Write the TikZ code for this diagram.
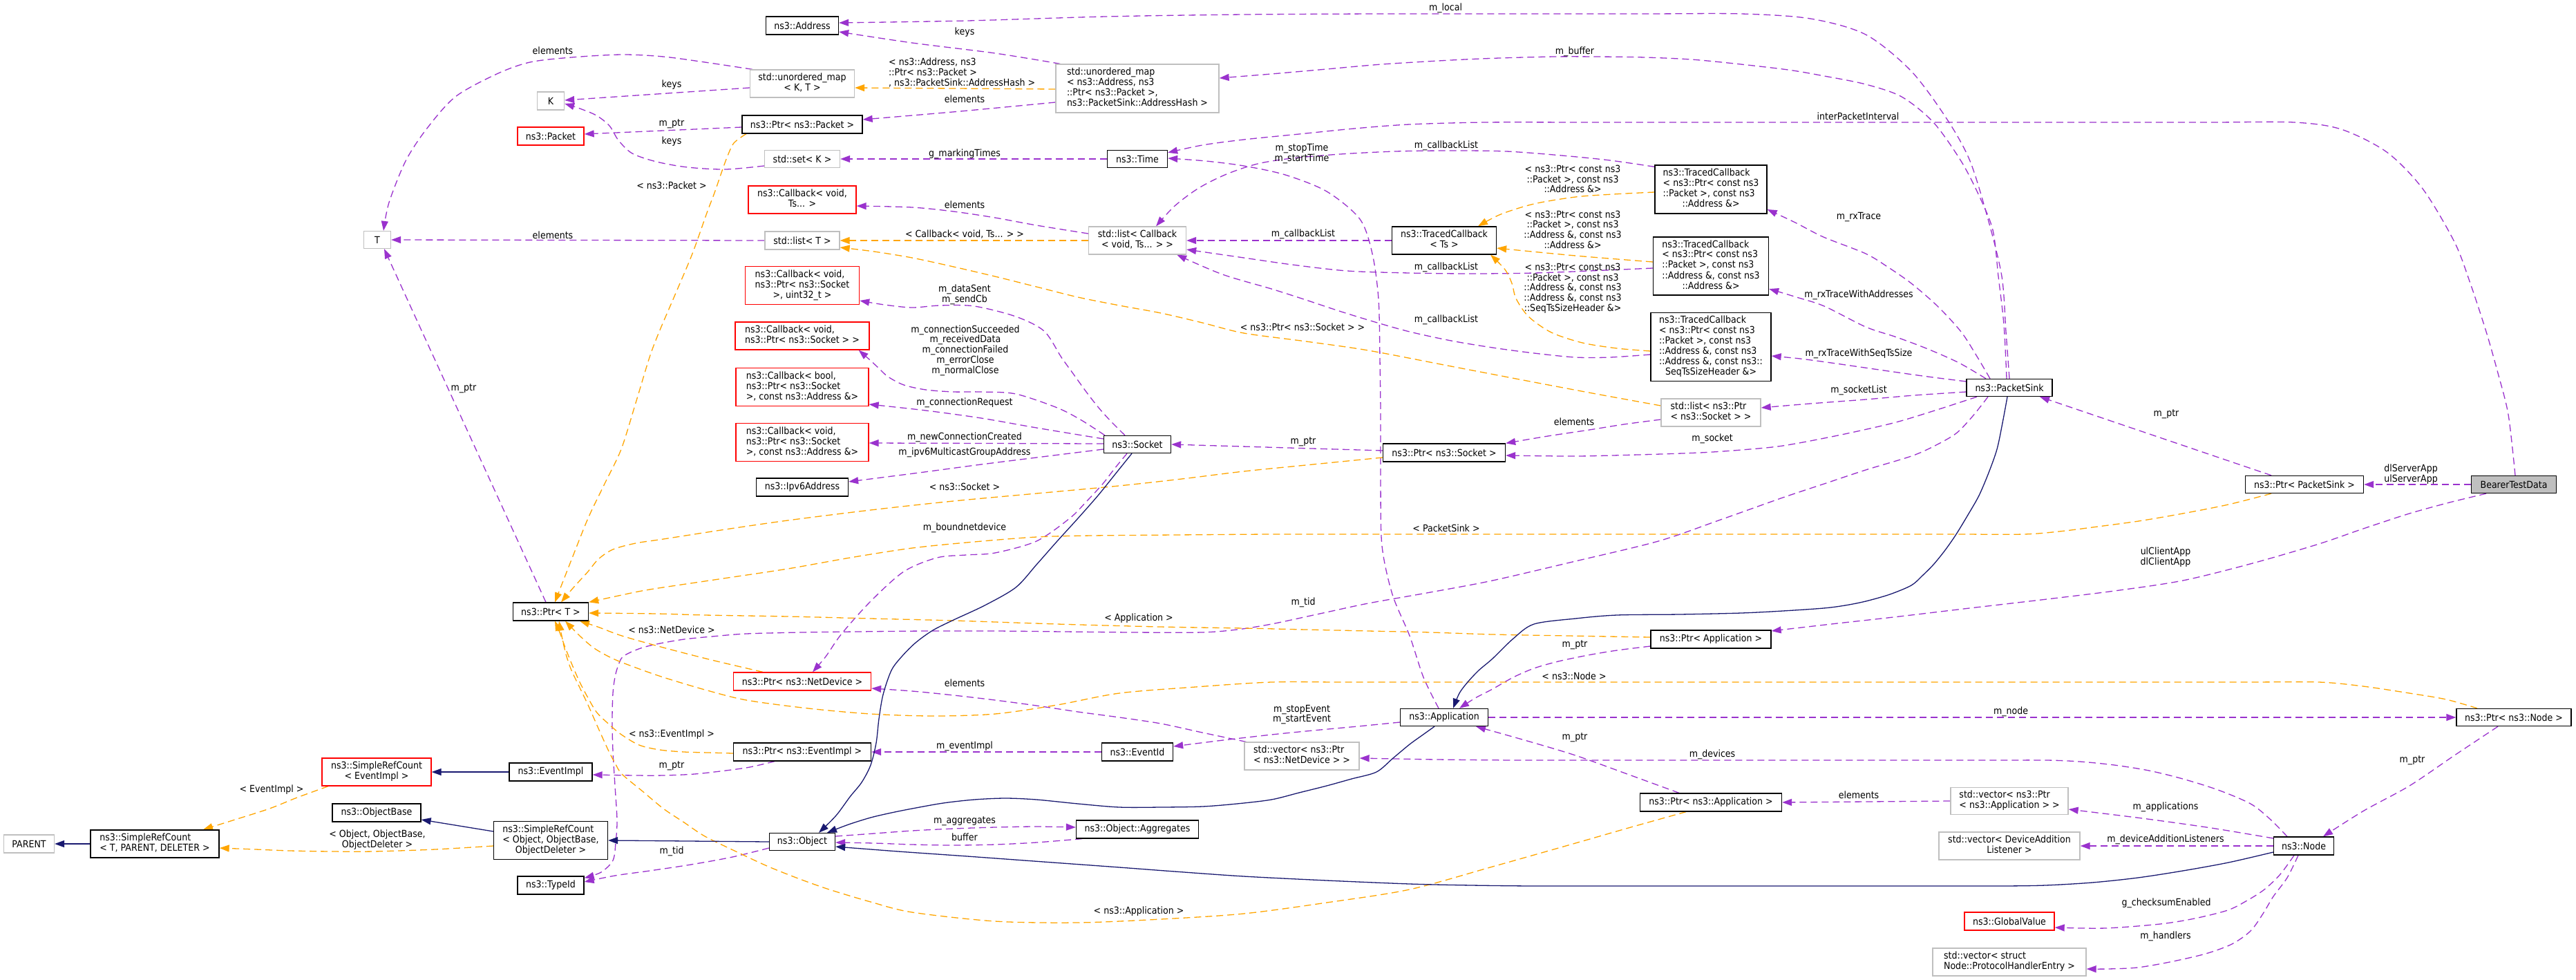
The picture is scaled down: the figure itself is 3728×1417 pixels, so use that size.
\documentclass[tikz,border=0pt]{standalone}
\usepackage{fontspec}
\setmainfont{DejaVu Sans}[FakeStretch=0.9]
\usetikzlibrary{arrows.meta,calc}
\pgfdeclarelayer{bg}
\pgfsetlayers{bg,main}
\definecolor{purp}{RGB}{154,50,205}
\definecolor{orng}{RGB}{255,165,0}
\definecolor{mblue}{RGB}{25,25,112}
\definecolor{ugray}{RGB}{191,191,191}
\newcommand{\dlab}[2]{\begin{tabular}{@{}l@{}}#1\\\multicolumn{1}{@{}c@{}}{#2}\end{tabular}}
\tikzset{
  txt/.style={font=\fontsize{14pt}{14.7pt}\selectfont, inner sep=0pt, align=center, text=black},
  nbox/.style={txt, rectangle, fill=white, line width=1.3pt},
  doc/.style={nbox, draw=black},
  undoc/.style={nbox, draw=ugray},
  trunc/.style={nbox, draw=red},
  mainbox/.style={nbox, draw=black, fill=ugray},
  sz/.style 2 args={minimum width=#1pt, minimum height=#2pt},
  lbl/.style={txt},
  uses/.style={draw=purp, line width=1.3pt, dash pattern=on 10pt off 6pt, -{Triangle[length=14pt,width=10pt]}},
  tmpl/.style={draw=orng, line width=1.3pt, dash pattern=on 10pt off 6pt, -{Triangle[length=14pt,width=10pt]}},
  inh/.style={draw=mblue, line width=1.3pt, -{Triangle[length=14pt,width=10pt]}},
}
\begin{document}
\begin{tikzpicture}[x=1pt,y=-1pt]
\useasboundingbox (0,0) rectangle (3728,1417);

% ---------------- nodes ----------------
\node[doc,sz={105}{26}] (addr) at (1161,37) {ns3::Address};
\node[undoc,sz={151}{40}] (umapKT) at (1161,121) {\dlab{std::unordered\_map}{< K, T >}};
\node[undoc,sz={39}{26}] (K) at (797,146) {K};
\node[trunc,sz={96}{26}] (packet) at (797,197) {ns3::Packet};
\node[undoc,sz={236}{70}] (umapBig) at (1646,128) {\dlab{std::unordered\_map\\< ns3::Address, ns3\\::Ptr< ns3::Packet >,}{ns3::PacketSink::AddressHash >}};
\node[doc,sz={174}{26}] (ptrPacket) at (1161,180) {ns3::Ptr< ns3::Packet >};
\node[undoc,sz={109}{25}] (setK) at (1161,230) {std::set< K >};
\node[doc,sz={87}{25}] (time) at (1646,230) {ns3::Time};
\node[undoc,sz={39}{25}] (T) at (546,347) {T};
\node[trunc,sz={156}{40}] (cbVoidTs) at (1161,289) {\dlab{ns3::Callback< void,}{Ts... >}};
\node[undoc,sz={108}{26}] (listT) at (1161,348) {std::list< T >};
\node[undoc,sz={141}{40}] (listCb) at (1646,348) {\dlab{std::list< Callback}{< void, Ts... > >}};
\node[trunc,sz={165}{55}] (cbSend) at (1161,413) {\dlab{ns3::Callback< void,\\ ns3::Ptr< ns3::Socket}{>, uint32\_t >}};
\node[trunc,sz={194}{40}] (cbSock) at (1161,486) {\dlab{ns3::Callback< void,}{ns3::Ptr< ns3::Socket > >}};
\node[trunc,sz={192}{55}] (cbBool) at (1161,560) {\dlab{ns3::Callback< bool,\\ ns3::Ptr< ns3::Socket}{>, const ns3::Address \&>}};
\node[trunc,sz={192}{55}] (cbNew) at (1161,640) {\dlab{ns3::Callback< void,\\ ns3::Ptr< ns3::Socket}{>, const ns3::Address \&>}};
\node[doc,sz={133}{26}] (ipv6) at (1161,705) {ns3::Ipv6Address};
\node[doc,sz={97}{25}] (socket) at (1646,643) {ns3::Socket};
\node[doc,sz={109}{26}] (ptrT) at (797,885) {ns3::Ptr< T >};
\node[trunc,sz={199}{26}] (ptrNetDev) at (1161,986) {ns3::Ptr< ns3::NetDevice >};
\node[doc,sz={199}{26}] (ptrEvImpl) at (1161,1088) {ns3::Ptr< ns3::EventImpl >};
\node[doc,sz={103}{26}] (eventId) at (1646,1088) {ns3::EventId};
\node[doc,sz={177}{26}] (aggr) at (1646,1200) {ns3::Object::Aggregates};
\node[doc,sz={95}{25}] (object) at (1161,1218) {ns3::Object};
\node[trunc,sz={158}{40}] (srcEv) at (545,1117) {\dlab{ns3::SimpleRefCount}{< EventImpl >}};
\node[doc,sz={120}{26}] (evImpl) at (797,1117) {ns3::EventImpl};
\node[doc,sz={128}{26}] (objBase) at (545,1176) {ns3::ObjectBase};
\node[doc,sz={165}{55}] (srcObj) at (797,1216) {\dlab{ns3::SimpleRefCount\\< Object, ObjectBase,}{ObjectDeleter >}};
\node[doc,sz={186}{40}] (srcT) at (224,1221) {\dlab{ns3::SimpleRefCount}{< T, PARENT, DELETER >}};
\node[undoc,sz={73}{26}] (parent) at (42,1221) {PARENT};
\node[doc,sz={96}{26}] (typeId) at (797,1281) {ns3::TypeId};
\node[doc,sz={151}{40}] (tcTs) at (2090,348) {\dlab{ns3::TracedCallback}{< Ts >}};
\node[doc,sz={162}{70}] (tc1) at (2476,274) {\dlab{ns3::TracedCallback\\< ns3::Ptr< const ns3\\::Packet >, const ns3}{::Address \&>}};
\node[doc,sz={167}{84}] (tc2) at (2476,385) {\dlab{ns3::TracedCallback\\< ns3::Ptr< const ns3\\::Packet >, const ns3\\::Address \&, const ns3}{::Address \&>}};
\node[doc,sz={174}{99}] (tc3) at (2476,502) {\dlab{ns3::TracedCallback\\< ns3::Ptr< const ns3\\::Packet >, const ns3\\::Address \&, const ns3\\::Address \&, const ns3::}{SeqTsSizeHeader \&>}};
\node[undoc,sz={144}{40}] (listSock) at (2476,597) {\dlab{std::list< ns3::Ptr}{< ns3::Socket > >}};
\node[doc,sz={177}{26}] (ptrSock) at (2090,655) {ns3::Ptr< ns3::Socket >};
\node[doc,sz={174}{26}] (ptrApp) at (2476,925) {ns3::Ptr< Application >};
\node[doc,sz={127}{25}] (app) at (2090,1038) {ns3::Application};
\node[undoc,sz={166}{40}] (vecNetDev) at (1884,1094) {\dlab{std::vector< ns3::Ptr}{< ns3::NetDevice > >}};
\node[doc,sz={205}{26}] (ptrNsApp) at (2476,1161) {ns3::Ptr< ns3::Application >};
\node[doc,sz={124}{25}] (packetSink) at (2908,561) {ns3::PacketSink};
\node[doc,sz={171}{25}] (ptrPS) at (3335,701) {ns3::Ptr< PacketSink >};
\node[mainbox,sz={123}{25}] (btd) at (3638,701) {BearerTestData};
\node[doc,sz={166}{25}] (ptrNode) at (3638,1038) {ns3::Ptr< ns3::Node >};
\node[undoc,sz={170}{39}] (vecApp) at (2908,1159) {\dlab{std::vector< ns3::Ptr}{< ns3::Application > >}};
\node[undoc,sz={204}{40}] (vecDAL) at (2908,1224) {\dlab{std::vector< DeviceAddition}{Listener >}};
\node[doc,sz={87}{26}] (node) at (3334,1224) {ns3::Node};
\node[trunc,sz={130}{26}] (globalValue) at (2908,1333) {ns3::GlobalValue};
\node[undoc,sz={222}{40}] (vecPHE) at (2908,1392) {\dlab{std::vector< struct}{Node::ProtocolHandlerEntry >}};

% ---------------- edges ----------------
\begin{pgfonlayer}{bg}
% usage (purple)
\draw[uses] plot[smooth] coordinates {(packetSink.north) (2903,480) (2897,400) (2877,317) (2851,233) (2818,173) (2766,103) (2700,50) (2620,27) (2520,20) (2380,20) (2200,20) (2000,20) (1800,21) (1600,24) (1400,30) ([yshift=4pt]addr.east)};
\draw[uses] plot[smooth] coordinates {([xshift=7pt]umapBig.north west) (1440,77) (1320,62) ([yshift=-9pt]addr.east)};
\draw[uses] ([yshift=-6pt]umapKT.west) -- ([yshift=1pt]K.east);
\draw[uses] plot[smooth] coordinates {([xshift=4pt]umapKT.north west) (1020,90) (960,82) (900,79) (827,83) (767,90) (719,107) (659,140) (617,187) (587,233) (563,293) ([xshift=9pt]T.north)};
\draw[uses] ([yshift=-4pt]ptrPacket.west) -- ([yshift=3pt]packet.east);
\draw[uses] plot[smooth] coordinates {([yshift=-10pt]setK.west) (1050,245) (995,242) (950,234) (915,222) (895,203) (882,182) (863,167) (839,157) ([yshift=-4pt]K.east)};
\draw[uses] plot[smooth] coordinates {([yshift=-20pt]umapBig.west) (1390,161) ([yshift=7pt]ptrPacket.east)};
\draw[uses] plot[smooth] coordinates {([xshift=-4pt]packetSink.north) (2900,470) (2892,400) (2884,333) (2864,283) (2838,233) (2798,177) (2752,140) (2700,122) (2640,110) (2580,100) (2460,87) (2380,83) (2310,82) (2250,82) (2170,84) (2100,87) (2000,93) (1920,100) (1840,107) ([yshift=15pt]umapBig.east)};
\draw[uses] plot[smooth] coordinates {([xshift=2pt]btd.north) (3630,600) (3615,540) (3598,480) (3575,410) (3552,350) (3506,273) (3454,220) (3388,187) (3320,177) (3200,177) (3050,177) (2900,177) (2750,177) (2600,177) (2450,177) (2300,177) (2150,177) (2040,180) (1960,186) (1880,194) (1800,202) (1740,210) ([yshift=-4pt]time.north east)};
\draw[uses] plot[smooth] coordinates {([xshift=-8pt]app.north) (2060,980) (2040,920) (2015,860) (2000,790) (1998,700) (1998,600) (1997,520) (1995,433) (1986,367) (1968,317) (1920,277) (1860,253) (1800,240) (1745,233) ([yshift=1pt]time.east)};
\draw[uses] (tcTs.west) -- (listCb.east);
\draw[uses] plot[smooth] coordinates {([yshift=-3pt]tc1.north west) (2330,232) (2260,225) (2180,219) (2100,218) (2020,219) (1940,223) (1870,229) (1820,237) (1775,252) (1735,272) (1700,298) ([xshift=27pt]listCb.north)};
\draw[uses] plot[smooth] coordinates {([yshift=-3pt]tc2.west) (2300,392) (2220,395) (2130,396) (2040,395) (1950,392) (1870,383) (1800,373) ([yshift=-13pt]listCb.east)};
\draw[uses] plot[smooth] coordinates {([yshift=-11pt]tc3.west) (2330,517) (2280,517) (2220,511) (2160,503) (2100,493) (2040,480) (1990,466) (1938,450) (1890,434) (1840,418) (1769,397) ([xshift=-14pt]listCb.south east)};
\draw[uses] plot[smooth] coordinates {([yshift=10pt]listCb.west) (1500,326) (1440,315) (1380,306) (1320,300) ([yshift=-9pt]cbVoidTs.east)};
\draw[uses] plot[smooth] coordinates {([xshift=-18pt]socket.north) (1608,610) (1590,590) (1572,567) (1554,542) (1536,517) (1511,479) (1470,458) (1410,443) (1360,442) (1320,445) (1280,441) ([yshift=-22pt]cbSend.east)};
\draw[uses] plot[smooth] coordinates {([xshift=2pt]socket.north west) (1565,608) (1530,590) (1470,570) (1420,567) (1380,567) (1340,564) (1308,557) (1285,545) (1272,533) (1258,520) ([xshift=-16pt]cbSock.south east)};
\draw[uses] plot[smooth] coordinates {([yshift=8pt]socket.west) (1500,619) (1420,605) (1340,594) ([yshift=-25pt]cbBool.east)};
\draw[uses] ([yshift=1pt]socket.west) -- ([yshift=-1pt]cbNew.east);
\draw[uses] plot[smooth] coordinates {([yshift=-7pt]socket.west) (1500,662) (1420,672) (1330,684) ([yshift=8pt]ipv6.east)};
\draw[uses] ([yshift=3pt]ptrSock.west) -- (socket.east);
\draw[uses] plot[smooth] coordinates {([xshift=-15pt]socket.south) (1613,678) (1596,700) (1572,726) (1548,750) (1500,783) (1440,800) (1398,803) (1356,807) (1308,827) (1260,870) (1218,917) (1195,950) ([xshift=15pt]ptrNetDev.north)};
\draw[uses] plot[smooth] coordinates {([xshift=3pt]vecNetDev.north west) (1740,1060) (1680,1047) (1620,1038) (1560,1030) (1500,1021) (1440,1013) (1380,1006) (1320,1000) ([yshift=-10pt]ptrNetDev.east)};
\draw[uses] plot[smooth] coordinates {([xshift=-24pt]node.north) (3285,1185) (3257,1163) (3210,1143) (3159,1127) (3110,1115) (3060,1107) (3010,1102) (2962,1100) (2880,1100) (2780,1100) (2650,1100) (2500,1100) (2350,1100) (2200,1100) (2080,1099) ([yshift=-3pt]vecNetDev.east)};
\draw[uses] plot[smooth] coordinates {([xshift=-40pt]ptrEvImpl.south) (1085,1110) (1050,1115) (1005,1120) (960,1122) (920,1122) ([yshift=-4pt]evImpl.east)};
\draw[uses] (eventId.west) -- (ptrEvImpl.east);
\draw[uses] plot[smooth] coordinates {([yshift=-7pt]app.west) (1965,1051) (1900,1057) (1840,1063) (1770,1071) ([yshift=8pt]eventId.east)};
\draw[uses] plot[smooth] coordinates {([yshift=8pt]object.east) (1265,1206) (1320,1202) (1380,1199) (1440,1197) (1500,1196) ([yshift=3pt]aggr.west)};
\draw[uses] plot[smooth] coordinates {([xshift=-80pt]aggr.south) (1500,1219) (1440,1222) (1380,1223) (1320,1222) (1265,1220) ([yshift=-1pt]object.east)};
\draw[uses] plot[smooth] coordinates {([yshift=-9pt]object.west) (1060,1240) (1000,1251) (940,1260) (890,1267) ([yshift=5pt]typeId.east)};
\draw[uses] plot[smooth] coordinates {([xshift=-31pt]packetSink.south) (2855,602) (2831,627) (2800,645) (2766,660) (2700,680) (2640,700) (2580,720) (2490,752) (2400,783) (2280,812) (2160,840) (2070,857) (1980,873) (1910,888) (1840,903) (1790,911) (1739,915) (1640,915) (1540,914) (1440,913) (1340,913) (1240,914) (1160,915) (1080,917) (1030,921) (990,925) (955,931) (930,937) (910,945) (899,953) (891,975) (887,1003) (886,1045) (887,1087) (890,1137) (893,1187) (891,1220) (887,1245) (870,1262) ([yshift=-3pt]typeId.north east)};
\draw[uses] plot[smooth] coordinates {([yshift=-10pt]listSock.west) (2350,614) (2300,622) (2240,631) (ptrSock.north east)};
\draw[uses] plot[smooth] coordinates {([xshift=-47pt]packetSink.south) (2800,594) (2740,612) (2660,630) (2580,645) (2520,651) (2460,655) (2370,658) (2280,660) ([yshift=-4pt]ptrSock.east)};
\draw[uses] plot[smooth] coordinates {([yshift=-6pt]packetSink.west) (2770,572) (2700,578) (2620,584) ([yshift=7pt]listSock.east)};
\draw[uses] plot[smooth] coordinates {([xshift=-28pt]packetSink.north) (2860,514) (2838,480) (2804,443) (2766,410) (2733,387) (2700,367) (2639,343) (2598,322) ([yshift=-29pt]tc1.east)};
\draw[uses] plot[smooth] coordinates {([xshift=-34pt]packetSink.north) (2835,525) (2790,505) (2745,488) (2700,473) (2640,443) (2600,430) ([yshift=-33pt]tc2.east)};
\draw[uses] plot[smooth] coordinates {([yshift=9pt]packetSink.west) (2790,545) (2740,538) (2650,525) (2605,519) ([yshift=-13pt]tc3.east)};
\draw[uses] ([xshift=-48pt]ptrPS.north) -- ([xshift=44pt]packetSink.south);
\draw[uses] (btd.west) -- (ptrPS.east);
\draw[uses] plot[smooth] coordinates {([xshift=-40pt]btd.south) (3545,727) (3487,743) (3420,765) (3356,787) (3260,815) (3159,840) (3060,855) (2962,867) (2850,880) (2740,893) (2650,903) ([yshift=12pt]ptrApp.east)};
\draw[uses] plot[smooth] coordinates {([yshift=-10pt]ptrApp.west) (2340,941) (2298,948) (2255,957) (2220,967) (2190,980) (2160,997) (2135,1010) ([xshift=22pt]app.north)};
\draw[uses] plot[smooth] coordinates {([xshift=-46pt]ptrNsApp.north) (2355,1120) (2280,1093) (2210,1072) ([xshift=46pt]app.south)};
\draw[uses] (app.east) -- (ptrNode.west);
\draw[uses] plot[smooth] coordinates {([xshift=-23pt]ptrNode.south) (3552,1093) (3487,1137) (3421,1173) ([xshift=28pt]node.north)};
\draw[uses] (vecApp.west) -- (ptrNsApp.east);
\draw[uses] plot[smooth] coordinates {([yshift=11pt]node.west) (3200,1198) (3100,1184) ([yshift=-12pt]vecApp.east)};
\draw[uses] (node.west) -- (vecDAL.east);
\draw[uses] plot[smooth] coordinates {([xshift=-14pt]node.south) (3300,1265) (3277,1287) (3252,1303) (3224,1317) (3176,1329) (3126,1337) (3047,1343) ([yshift=-9pt]globalValue.east)};
\draw[uses] plot[smooth] coordinates {([xshift=-8pt]node.south) (3310,1270) (3290,1297) (3275,1322) (3257,1347) (3230,1366) (3192,1380) (3140,1392) (3093,1400) (3050,1402) ([yshift=-10pt]vecPHE.east)};
\draw[uses] ([xshift=-7pt]ptrT.north) -- ([xshift=10pt]T.south);
\draw[uses] (listT.west) -- (T.east);
\draw[uses] (time.west) -- (setK.east);

% template instances (orange)
\draw[tmpl] ([yshift=-1pt]umapBig.west) -- ([yshift=-6pt]umapKT.east);
\draw[tmpl] (listCb.west) -- (listT.east);
\draw[tmpl] plot[smooth] coordinates {([yshift=10pt]listSock.west) (2310,570) (2220,553) (2100,530) (1980,507) (1890,494) (1800,482) (1740,467) (1680,453) (1620,442) (1560,430) (1500,415) (1440,400) (1380,386) (1320,373) (1265,364) ([yshift=-10pt]listT.east)};
\draw[tmpl] plot[smooth] coordinates {([yshift=-4pt]tc1.west) (2335,281) (2280,285) (2220,295) (2172,310) ([xshift=49pt]tcTs.north)};
\draw[tmpl] plot[smooth] coordinates {([yshift=6pt]tc2.west) (2280,370) ([yshift=-11pt]tcTs.east)};
\draw[tmpl] plot[smooth] coordinates {([yshift=-6pt]tc3.west) (2340,504) (2290,496) (2245,481) (2212,458) (2194,432) (2188,410) (2178,390) ([xshift=-9pt]tcTs.south east)};
\draw[tmpl] plot[smooth] coordinates {([xshift=-81pt]ptrPacket.south) (1062,207) (1052,228) (1044,250) (1034,279) (1023,308) (1002,367) (978,424) (954,480) (940,517) (920,583) (899,650) (875,700) (851,750) (827,810) ([xshift=6pt]ptrT.north)};
\draw[tmpl] plot[smooth] coordinates {([yshift=-7pt]ptrSock.west) (1900,672) (1800,682) (1710,693) (1619,703) (1500,714) (1380,725) (1260,738) (1140,753) (1050,766) (960,780) (920,786) (887,795) (866,809) (851,827) (830,850) ([xshift=15pt]ptrT.north)};
\draw[tmpl] plot[smooth] coordinates {([xshift=-48pt]ptrPS.south) (3225,730) (3159,743) (3095,754) (3028,763) (2980,769) (2929,773) (2830,773) (2700,773) (2550,773) (2400,773) (2250,773) (2100,773) (1950,773) (1840,773) (1700,774) (1580,775) (1500,777) (1410,784) (1320,793) (1230,807) (1140,823) (1040,838) (940,853) (895,862) (ptrT.north east)};
\draw[tmpl] plot[smooth] coordinates {([yshift=3pt]ptrApp.west) (2270,920) (2160,918) (2070,915) (1980,913) (1890,911) (1800,909) (1679,907) (1530,903) (1380,898) (1260,895) (1140,892) (1020,890) (950,888) ([yshift=-2pt]ptrT.east)};
\draw[tmpl] plot[smooth] coordinates {([xshift=-53pt]ptrNode.north) (3540,1012) (3487,1003) (3420,993) (3356,987) (3250,987) (3100,987) (2950,987) (2800,987) (2650,987) (2500,987) (2350,987) (2200,987) (2050,987) (1940,987) (1840,987) (1730,994) (1620,1003) (1530,1020) (1440,1033) (1350,1036) (1260,1033) (1170,1025) (1080,1013) (1020,998) (960,980) (920,966) (887,953) (860,938) (839,920) ([xshift=21pt]ptrT.south)};
\draw[tmpl] plot[smooth] coordinates {([xshift=-57pt]ptrNetDev.north) (1030,955) (960,937) (900,920) (865,907) ([xshift=42pt]ptrT.south)};
\draw[tmpl] plot[smooth] coordinates {([yshift=-2pt]ptrEvImpl.west) (1025,1089) (990,1088) (955,1085) (925,1078) (898,1062) (878,1045) (863,1030) (850,1008) (839,987) (828,962) (818,937) (810,915) ([xshift=6pt]ptrT.south)};
\draw[tmpl] plot[smooth] coordinates {([xshift=-36pt]ptrNsApp.south) (2360,1197) (2280,1220) (2160,1254) (2040,1287) (1920,1306) (1800,1322) (1680,1330) (1560,1335) (1440,1333) (1320,1320) (1260,1305) (1200,1287) (1155,1271) (1110,1253) (1065,1232) (1020,1210) (990,1190) (960,1170) (930,1145) (900,1120) (890,1104) (881,1087) (866,1054) (851,1020) (839,995) (827,970) (820,950) (815,930) (812,915) ([xshift=12pt]ptrT.south)};
\draw[tmpl] plot[smooth] coordinates {([xshift=-70pt]srcEv.south) (430,1154) (390,1170) (340,1186) ([xshift=70pt]srcT.north)};
\draw[tmpl] plot[smooth] coordinates {([yshift=-8pt]srcObj.west) (630,1229) (540,1232) (480,1232) (420,1231) (370,1229) ([yshift=-6pt]srcT.east)};

% inheritance (dark blue)
\draw[inh] (srcT.west) -- (parent.east);
\draw[inh] (evImpl.west) -- (srcEv.east);
\draw[inh] ([yshift=13pt]srcObj.west) -- ([yshift=-10pt]objBase.east);
\draw[inh] (object.west) -- (srcObj.east);
\draw[inh] plot[smooth] coordinates {([xshift=-8pt]socket.south) (1614,686) (1589,717) (1560,750) (1530,783) (1500,817) (1470,850) (1425,876) (1380,897) (1350,912) (1325,930) (1305,950) (1290,970) (1278,1005) (1272,1040) (1268,1075) (1260,1107) (1247,1132) (1230,1153) (1210,1180) ([xshift=24pt]object.north)};
\draw[inh] plot[smooth] coordinates {([xshift=-14pt]app.south) (2058,1064) (2040,1077) (2016,1097) (1992,1117) (1956,1127) (1920,1137) (1880,1147) (1840,1157) (1790,1163) (1740,1167) (1680,1168) (1620,1168) (1560,1163) (1500,1157) (1455,1155) (1410,1157) (1365,1162) (1320,1170) (1290,1176) (1260,1183) (1228,1193) ([xshift=36pt]object.north)};
\draw[inh] plot[smooth] coordinates {([yshift=-9pt]node.west) (3225,1248) (3159,1260) (3094,1270) (3028,1277) (2960,1281) (2897,1282) (2800,1282) (2700,1282) (2580,1282) (2460,1282) (2340,1282) (2220,1282) (2130,1281) (2040,1279) (1920,1274) (1800,1268) (1700,1261) (1620,1255) (1510,1247) (1400,1239) (1300,1232) ([yshift=-7pt]object.east)};
\draw[inh] plot[smooth] coordinates {([xshift=-3pt]packetSink.south) (2898,612) (2890,650) (2878,684) (2864,717) (2848,745) (2831,773) (2815,796) (2798,817) (2782,833) (2766,847) (2735,860) (2700,870) (2670,876) (2639,880) (2580,884) (2520,887) (2430,889) (2340,890) (2280,895) (2220,903) (2190,924) (2160,953) (2140,970) (2124,987) (2112,1003) ([xshift=13pt]app.north)};
\end{pgfonlayer}

% ---------------- edge labels ----------------
\node[lbl] (l01) at (2092,12) {m\_local};
\node[lbl] (l02) at (1396,47) {keys};
\node[lbl] (l03) at (800,73) {elements};
\node[lbl] (l04) at (2279,75) {m\_buffer};
\node[lbl, align=left, anchor=west] (l05) at (1286,105) {< ns3::Address, ns3\\::Ptr< ns3::Packet >\\, ns3::PacketSink::AddressHash >};
\node[lbl] (l06) at (972,123) {keys};
\node[lbl] (l07) at (1396,143) {elements};
\node[lbl] (l08) at (2689,168) {interPacketInterval};
\node[lbl] (l09) at (972,179) {m\_ptr};
\node[lbl] (l10) at (972,205) {keys};
\node[lbl] (l11) at (2093,211) {m\_callbackList};
\node[lbl] (l12) at (1884,222) {m\_stopTime\\m\_startTime};
\node[lbl] (l13) at (1396,223) {g\_markingTimes};
\node[lbl] (l14) at (2276,259) {< ns3::Ptr< const ns3\\::Packet >, const ns3\\::Address \&>};
\node[lbl] (l15) at (972,268) {< ns3::Packet >};
\node[lbl] (l16) at (1396,296) {elements};
\node[lbl] (l17) at (2690,314) {m\_rxTrace};
\node[lbl] (l18) at (2276,332) {< ns3::Ptr< const ns3\\::Packet >, const ns3\\::Address \&, const ns3\\::Address \&>};
\node[lbl] (l19) at (1396,339) {< Callback< void, Ts... > >};
\node[lbl] (l20) at (1886,339) {m\_callbackList};
\node[lbl] (l21) at (800,340) {elements};
\node[lbl] (l22) at (2093,387) {m\_callbackList};
\node[lbl] (l23) at (2276,417) {< ns3::Ptr< const ns3\\::Packet >, const ns3\\::Address \&, const ns3\\::Address \&, const ns3\\::SeqTsSizeHeader \&>};
\node[lbl] (l24) at (1396,426) {m\_dataSent\\m\_sendCb};
\node[lbl] (l25) at (2690,427) {m\_rxTraceWithAddresses};
\node[lbl] (l26) at (2093,463) {m\_callbackList};
\node[lbl] (l27) at (1885,473) {< ns3::Ptr< ns3::Socket > >};
\node[lbl] (l28) at (1397,507) {m\_connectionSucceeded\\m\_receivedData\\m\_connectionFailed\\m\_errorClose\\m\_normalClose};
\node[lbl] (l29) at (2690,512) {m\_rxTraceWithSeqTsSize};
\node[lbl] (l30) at (671,562) {m\_ptr};
\node[lbl] (l31) at (2690,565) {m\_socketList};
\node[lbl] (l32) at (1396,583) {m\_connectionRequest};
\node[lbl] (l33) at (3135,599) {m\_ptr};
\node[lbl] (l34) at (2278,610) {elements};
\node[lbl] (l35) at (1396,633) {m\_newConnectionCreated};
\node[lbl] (l36) at (2478,635) {m\_socket};
\node[lbl] (l37) at (1886,639) {m\_ptr};
\node[lbl] (l38) at (1396,655) {m\_ipv6MulticastGroupAddress};
\node[lbl] (l39) at (3489,686) {dlServerApp\\ulServerApp};
\node[lbl] (l40) at (1396,704) {< ns3::Socket >};
\node[lbl] (l41) at (1396,764) {m\_boundnetdevice};
\node[lbl] (l42) at (2093,764) {< PacketSink >};
\node[lbl] (l43) at (3134,806) {ulClientApp\\dlClientApp};
\node[lbl] (l44) at (1886,872) {m\_tid};
\node[lbl] (l45) at (1648,895) {< Application >};
\node[lbl] (l46) at (972,911) {< ns3::NetDevice >};
\node[lbl] (l47) at (2279,933) {m\_ptr};
\node[lbl] (l48) at (2278,978) {< ns3::Node >};
\node[lbl] (l49) at (1396,988) {elements};
\node[lbl] (l50) at (2910,1030) {m\_node};
\node[lbl] (l51) at (1884,1034) {m\_stopEvent\\m\_startEvent};
\node[lbl] (l52) at (972,1063) {< ns3::EventImpl >};
\node[lbl] (l53) at (2279,1067) {m\_ptr};
\node[lbl] (l54) at (1396,1080) {m\_eventImpl};
\node[lbl] (l55) at (2478,1092) {m\_devices};
\node[lbl] (l56) at (3491,1100) {m\_ptr};
\node[lbl] (l57) at (972,1108) {m\_ptr};
\node[lbl] (l58) at (393,1143) {< EventImpl >};
\node[lbl] (l59) at (2690,1150) {elements};
\node[lbl] (l60) at (3134,1168) {m\_applications};
\node[lbl] (l61) at (1396,1188) {m\_aggregates};
\node[lbl] (l62) at (1396,1211) {buffer};
\node[lbl] (l63) at (546,1215) {< Object, ObjectBase,\\ObjectDeleter >};
\node[lbl] (l64) at (3134,1215) {m\_deviceAdditionListeners};
\node[lbl] (l65) at (972,1232) {m\_tid};
\node[lbl] (l66) at (3135,1307) {g\_checksumEnabled};
\node[lbl] (l67) at (1648,1319) {< ns3::Application >};
\node[lbl] (l68) at (3134,1355) {m\_handlers};
\end{tikzpicture}
\end{document}
